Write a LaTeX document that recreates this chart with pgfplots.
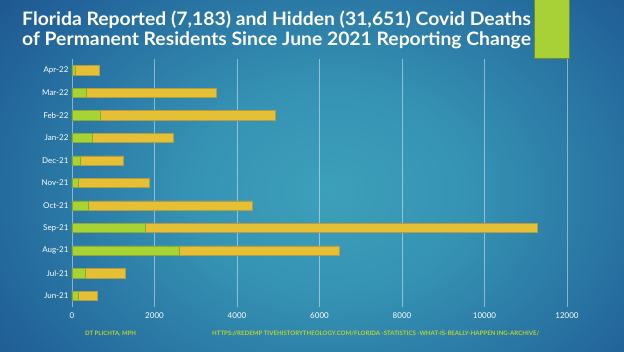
\documentclass[border=0pt]{standalone}
\usepackage{pgfplots}
\pgfplotsset{compat=1.18}
\usepackage{fontspec}
\setmainfont{Lato}
\definecolor{bgc0}{HTML}{3DA0BA}
\definecolor{bgc1}{HTML}{3592B3}
\definecolor{bgc2}{HTML}{22649A}
\definecolor{bgc3}{HTML}{133C76}
\definecolor{bgc4}{HTML}{0B2765}
\definecolor{barGreen}{HTML}{A8D433}
\definecolor{barGreenD}{HTML}{8DA83A}
\definecolor{barYellow}{HTML}{E6C034}
\definecolor{barYellowD}{HTML}{B29C45}
\definecolor{rectGreen}{HTML}{A8D137}
\definecolor{rectGreenD}{HTML}{6E8E25}
\definecolor{footGreen}{HTML}{B8D430}
\pgfdeclareradialshading{bgshade}{\pgfpoint{0bp}{0bp}}{color(0bp)=(bgc0); color(10bp)=(bgc1); color(25bp)=(bgc2); color(40bp)=(bgc3); color(50bp)=(bgc4)}
\begin{document}
\begin{tikzpicture}[x=1pt,y=1pt]
\useasboundingbox (0,0) rectangle (624,351);
\begin{scope}
\clip (0,0) rectangle (624,351);
\shade[shading=bgshade] (-30,-105) rectangle (690,425);
\end{scope}
\begin{axis}[
  at={(72pt,44pt)}, anchor=south west, scale only axis,
  width=495pt, height=248pt,
  xbar stacked, bar width=9.3pt,
  xmin=0, xmax=12000, ymin=-0.5, ymax=10.5,
  xtick={0,2000,4000,6000,8000,10000,12000},
  ytick={0,1,2,3,4,5,6,7,8,9,10},
  yticklabels={Jun-21,Jul-21,Aug-21,Sep-21,Oct-21,Nov-21,Dec-21,Jan-22,Feb-22,Mar-22,Apr-22},
  axis x line*=bottom, axis y line*=left, axis line style={draw=none},
  major tick length=0pt,
  xmajorgrids, major grid style={white, opacity=0.45, line width=0.8pt},
  tick label style={white, font=\fontsize{8}{9}\selectfont},
  xticklabel style={yshift=-2pt},
  scaled x ticks=false,
  /pgf/number format/1000 sep={},
  /pgf/number format/assume math mode=true,
]
\addplot[fill=barGreen, draw=barGreenD, line width=0.5pt] coordinates {(162,0) (325,1) (2602,2) (1786,3) (404,4) (162,5) (202,6) (501,7) (695,8) (349,9) (73,10)};
\addplot[fill=barYellow, draw=barYellowD, line width=0.5pt] coordinates {(460,0) (972,1) (3871,2) (9494,3) (3960,4) (1721,5) (1051,6) (1947,7) (4234,8) (3158,9) (595,10)};
\end{axis}
\node[anchor=base west, text=white, font=\fontsize{18.5}{22}\selectfont\bfseries, inner sep=0pt] at (22,325) {\scalebox{1.045}[1]{Florida Reported (7,183) and Hidden (31,651) Covid Deaths}};
\node[anchor=base west, text=white, font=\fontsize{18.5}{22}\selectfont\bfseries, inner sep=0pt] at (22,305) {\scalebox{1.045}[1]{of Permanent Residents Since June 2021 Reporting Change}};
\filldraw[fill=rectGreen, draw=rectGreenD, line width=0.8pt] (534,352) rectangle (569,293);
\node[anchor=base west, text=footGreen, font=\fontsize{6}{7}\selectfont\bfseries, inner sep=0pt] at (85,16) {DT PLICHTA, MPH};
\node[anchor=base west, text=footGreen, font=\fontsize{6.1}{7}\selectfont\bfseries, inner sep=0pt] at (212,16) {HTTPS://REDEMP TIVEHISTORYTHEOLOGY.COM/FLORIDA -STATISTICS -WHAT-IS-REALLY-HAPPEN ING-ARCHIVE/};
\end{tikzpicture}
\end{document}
